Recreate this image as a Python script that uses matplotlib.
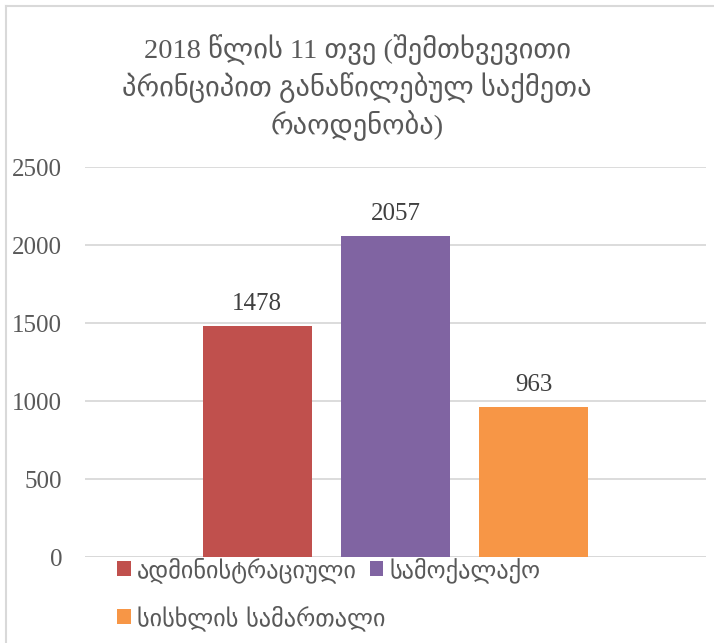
import matplotlib
matplotlib.use("Agg")
import matplotlib.pyplot as plt
from matplotlib.lines import Line2D

title = "2018 წლის 11 თვე (შემთხვევითი\nპრინციპით განაწილებულ საქმეთა\nრაოდენობა)"
series = ["ადმინისტრაციული", "სამოქალაქო", "სისხლის სამართალი"]
values = [1478, 2057, 963]
colors = ["#C0504D", "#8064A2", "#F79646"]
offsets = [-1, 0, 1]
yticks = [0, 500, 1000, 1500, 2000, 2500]

FAM = ["Liberation Serif", "DejaVu Serif", "DejaVu Sans"]
GEO = ["DejaVu Sans"]
plt.rcParams["font.family"] = FAM

fig = plt.figure(figsize=(7.14, 6.43), dpi=100)
W, H = 714, 643
ax = fig.add_axes([85 / W, (H - 557) / H, 621 / W, 390 / H])

bars = []
for name, v, c, o in zip(series, values, colors, offsets):
    b = ax.bar(o, v, width=0.787, color=c, label=name, zorder=3)
    bars.append(b)
    ax.bar_label(b, padding=8, fontsize=18, color="#404040", family=FAM)

ax.set_xlim(-2.242, 2.242)
ax.set_ylim(0, 2500)
ax.set_yticks(yticks)
ax.set_yticklabels([str(t) for t in yticks], fontsize=18, color="#595959")
ax.tick_params(axis="y", length=0, pad=16.5)
ax.set_xticks([])
for s in ax.spines.values():
    s.set_visible(False)
ax.grid(axis="y", color="#D9D9D9", linewidth=1.3, zorder=0)
ax.axhline(0, color="#D9D9D9", linewidth=1.3, zorder=2)

fig.text(0.5, 1 - 88 / H, title, ha="center", va="center", fontsize=20.5,
         color="#595959", family=["Liberation Serif", "DejaVu Sans"], linespacing=1.3)

leg_kw = dict(frameon=False, borderpad=0, handlelength=0.55, handleheight=0.55,
              handletextpad=0.25, columnspacing=0.55,
              prop={"family": GEO, "size": 17.5})
rows = [[0, 1], [2]]
row_y = [545, 593]
for idx, y in zip(rows, row_y):
    leg = fig.legend([bars[i] for i in idx], [series[i] for i in idx], loc="upper left",
                     bbox_to_anchor=(105 / W, 1 - y / H), ncol=len(idx), **leg_kw)
    for t in leg.get_texts():
        t.set_color("#595959")

fig.add_artist(Line2D([5.5 / W, 5.5 / W], [0, 1 - 5.5 / H], color="#D9D9D9", lw=1.5))
fig.add_artist(Line2D([5.5 / W, 1], [1 - 5.5 / H, 1 - 5.5 / H], color="#D9D9D9", lw=1.5))

fig.savefig("out.png", dpi=100)
